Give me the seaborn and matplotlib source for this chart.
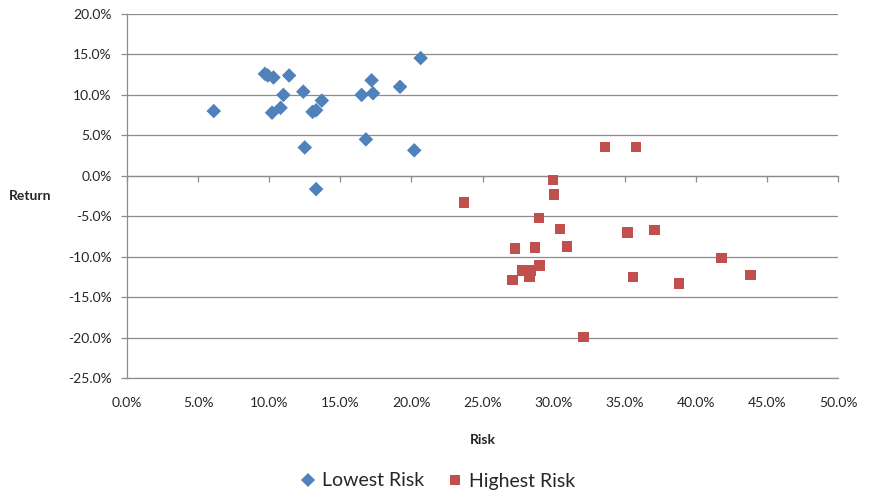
import pandas as pd
import numpy as np
import matplotlib.pyplot as plt
import seaborn as sns
from matplotlib.ticker import PercentFormatter, MultipleLocator, FixedLocator

# Risk / return of the two groups (in %)
low_risk = [6.1, 9.7, 9.9, 10.3, 11.4, 11.0, 10.8, 10.2, 12.4, 12.5, 13.05,
            13.3, 13.7, 13.3, 16.5, 17.2, 17.3, 16.8, 19.2, 20.65, 20.2]
low_ret = [8.0, 12.6, 12.4, 12.15, 12.4, 10.0, 8.4, 7.8, 10.4, 3.5, 7.9,
           8.1, 9.3, -1.65, 10.0, 11.8, 10.2, 4.5, 11.0, 14.55, 3.15]

high_risk = [33.6, 35.8, 29.95, 30.05, 23.7, 28.95, 30.45, 35.2, 37.1, 27.3, 28.7,
             30.95, 41.8, 43.85, 27.8, 28.4, 29.0, 27.1, 28.3, 35.6, 38.8, 32.1]
high_ret = [3.6, 3.6, -0.55, -2.3, -3.3, -5.2, -6.55, -7.0, -6.7, -9.0, -8.85,
            -8.75, -10.2, -12.3, -11.7, -11.7, -11.1, -12.85, -12.55, -12.55, -13.3, -19.9]

x_ticks = [0, 5, 10, 15, 20, 25, 30, 35, 40, 45, 50]

df = pd.DataFrame({
    "Risk": low_risk + high_risk,
    "Return": low_ret + high_ret,
    "Group": ["Lowest Risk"] * len(low_risk) + ["Highest Risk"] * len(high_risk),
})

sns.set_style("white")
plt.rcParams["font.family"] = ["Lato", "DejaVu Sans"]
plt.rcParams["axes.unicode_minus"] = False

grid_col = "#8c8c8c"

fig = plt.figure(figsize=(8.72, 4.99), dpi=100)
ax = fig.add_axes([127 / 872, 1 - 378 / 499, 711 / 872, 364 / 499])

sns.scatterplot(data=df, x="Risk", y="Return", hue="Group", style="Group",
                palette={"Lowest Risk": "#4F81BD", "Highest Risk": "#C0504D"},
                markers={"Lowest Risk": "D", "Highest Risk": "s"},
                s=55, linewidth=0, ax=ax, legend=True, zorder=3)

ax.set_xlim(0, 50)
ax.set_ylim(-25, 20)
ax.yaxis.set_major_locator(MultipleLocator(5))
ax.xaxis.set_major_locator(FixedLocator(x_ticks))
ax.yaxis.set_major_formatter(PercentFormatter(decimals=1))

# horizontal gridlines only
ax.grid(axis="y", color=grid_col, linewidth=0.9)
ax.grid(axis="x", visible=False)
ax.set_axisbelow(True)

for side in ["top", "right"]:
    ax.spines[side].set_visible(False)
ax.spines["left"].set_color(grid_col)
ax.spines["left"].set_linewidth(0.9)

# horizontal axis crosses at 0, labels low
ax.spines["bottom"].set_position(("data", 0))
ax.spines["bottom"].set_color(grid_col)
ax.spines["bottom"].set_linewidth(0.9)
ax.tick_params(axis="x", bottom=True, length=4.5, width=0.9, color=grid_col,
               direction="out", labelbottom=False)
ax.tick_params(axis="y", left=True, length=4.5, width=0.9, color=grid_col,
               labelsize=10, pad=6.5)

sec = ax.secondary_xaxis("bottom")
sec.xaxis.set_major_locator(FixedLocator(x_ticks))
sec.xaxis.set_major_formatter(PercentFormatter(decimals=1))
sec.tick_params(length=0, pad=14, labelsize=10)
sec.spines["bottom"].set_color(grid_col)
sec.spines["bottom"].set_linewidth(0.9)

ax.set_xlabel("Risk", fontsize=10, fontweight="bold")
ax.xaxis.set_label_coords(0.5, -0.154)
ax.set_ylabel("Return", fontsize=10, fontweight="bold", rotation=0, ha="center", va="center")
ax.yaxis.set_label_coords(-0.136, 0.5)

handles, labels = ax.get_legend_handles_labels()
ax.get_legend().remove()
fig.legend(handles, labels, loc="center", bbox_to_anchor=(0.5, 1 - 481 / 499),
           ncol=2, frameon=False, fontsize=14, handletextpad=0.1,
           columnspacing=1.0, markerscale=1.0, handlelength=1.2)

plt.savefig("out.png", dpi=100)
